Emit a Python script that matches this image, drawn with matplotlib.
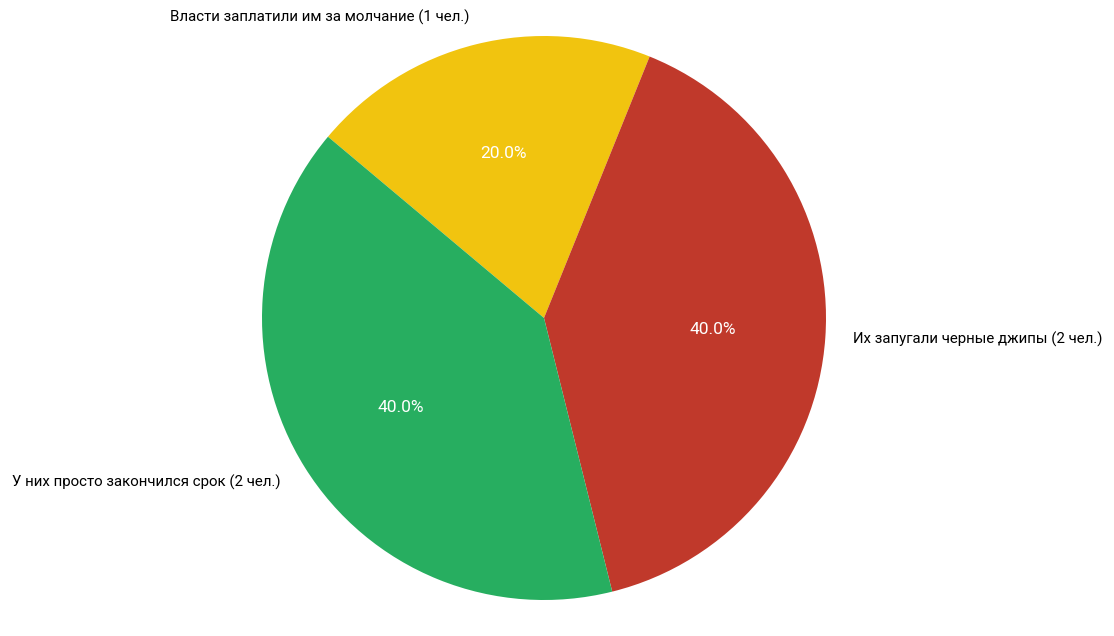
import matplotlib
matplotlib.use("Agg")
import matplotlib.pyplot as plt

labels = ["Власти заплатили им за молчание (1 чел.)",
          "Их запугали черные джипы (2 чел.)",
          "У них просто закончился срок (2 чел.)"]
values = [1, 2, 2]
colors = ["#F1C40F", "#C0392B", "#27AE60"]

plt.rcParams['font.family'] = ['Roboto', 'DejaVu Sans']

W, H = 1114, 636
fig = plt.figure(figsize=(W / 100, H / 100), dpi=100)
cx, cy, r = 544, 318, 282
ax = fig.add_axes([(cx - r) / W, (H - cy - r) / H, 2 * r / W, 2 * r / H])
wedges, texts, autotexts = ax.pie(values, labels=labels, colors=colors,
                                  autopct='%1.1f%%', startangle=140,
                                  counterclock=False,
                                  textprops={'fontsize': 10.8})
for t in autotexts:
    t.set_color('white')
    t.set_fontsize(12.5)
ax.set_xlim(-1, 1)
ax.set_ylim(-1, 1)
ax.set_aspect('equal')
ax.axis('off')
fig.savefig("out.png", dpi=100)
